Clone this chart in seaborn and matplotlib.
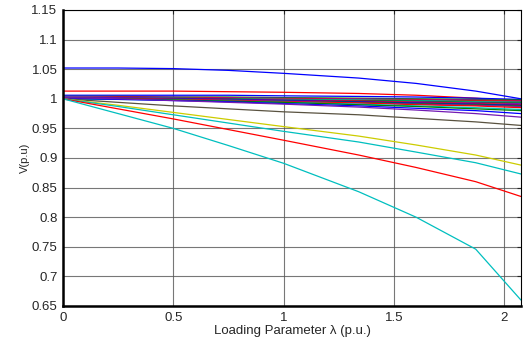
import numpy as np
import pandas as pd
import matplotlib
matplotlib.use('Agg')
import matplotlib.pyplot as plt
import seaborn as sns

sns.set_style('white')
plt.rcParams['font.family'] = ['Liberation Sans', 'DejaVu Sans']

# loading parameter steps (p.u.)
lam = [0, 0.25, 0.5, 0.75, 1.0, 1.34, 1.6, 1.87, 2.075]

# bus voltage profiles (p.u.)
bus_voltages = {
    'b1':  [1.052, 1.052, 1.051, 1.048, 1.043, 1.035, 1.026, 1.013, 1.000],
    'r1':  [1.013, 1.013, 1.013, 1.012, 1.011, 1.009, 1.006, 1.001, 0.996],
    'b2':  [1.006, 1.006, 1.006, 1.006, 1.005, 1.004, 1.003, 1.001, 0.999],
    'g1':  [1.004, 1.004, 1.003, 1.003, 1.002, 1.001, 1.000, 0.999, 0.998],
    'm1':  [1.004, 1.003, 1.003, 1.002, 1.001, 1.000, 0.999, 0.998, 0.997],
    'r2':  [1.003, 1.003, 1.002, 1.001, 1.000, 0.999, 0.998, 0.997, 0.996],
    'k1':  [1.002, 1.002, 1.001, 1.000, 0.999, 0.998, 0.997, 0.996, 0.995],
    'c1':  [1.003, 1.002, 1.001, 1.000, 0.999, 0.998, 0.997, 0.995, 0.994],
    'g2':  [1.002, 1.001, 1.001, 1.000, 0.998, 0.997, 0.996, 0.994, 0.993],
    'm2':  [1.003, 1.002, 1.001, 0.999, 0.998, 0.996, 0.995, 0.993, 0.992],
    'r3':  [1.001, 1.001, 1.000, 0.999, 0.997, 0.996, 0.994, 0.992, 0.990],
    'b3':  [1.002, 1.001, 1.000, 0.999, 0.997, 0.995, 0.993, 0.991, 0.989],
    'g3':  [1.001, 1.000, 0.999, 0.998, 0.996, 0.994, 0.992, 0.990, 0.988],
    'm3':  [1.002, 1.001, 0.999, 0.998, 0.996, 0.993, 0.991, 0.989, 0.987],
    'r4':  [1.001, 1.000, 0.999, 0.997, 0.995, 0.993, 0.990, 0.988, 0.985],
    'c2':  [1.000, 0.999, 0.998, 0.996, 0.994, 0.991, 0.988, 0.985, 0.982],
    'g4':  [1.001, 1.000, 0.998, 0.996, 0.994, 0.990, 0.987, 0.983, 0.980],
    'b4':  [1.001, 0.999, 0.997, 0.995, 0.992, 0.988, 0.984, 0.980, 0.975],
    'm4':  [1.002, 1.000, 0.997, 0.994, 0.991, 0.986, 0.981, 0.975, 0.969],
    'k2':  [1.000, 0.994, 0.988, 0.983, 0.978, 0.973, 0.967, 0.961, 0.955],
    'y1':  [1.000, 0.989, 0.977, 0.965, 0.953, 0.937, 0.922, 0.905, 0.888],
    'c3':  [1.000, 0.987, 0.973, 0.959, 0.945, 0.927, 0.910, 0.892, 0.873],
    'r5':  [1.000, 0.983, 0.966, 0.948, 0.930, 0.905, 0.884, 0.860, 0.835],
    'c4':  [1.000, 0.975, 0.950, 0.921, 0.891, 0.843, 0.800, 0.746, 0.660],
}

matlab_colors = {
    'b': (0, 0, 1), 'g': (0, 0.5, 0), 'r': (1, 0, 0), 'c': (0, 0.75, 0.75),
    'm': (0.45, 0.1, 0.7), 'y': (0.8, 0.8, 0), 'k': (0.35, 0.32, 0.25),
}
palette = {name: matlab_colors[name[0]] for name in bus_voltages}

df = pd.DataFrame(bus_voltages)
df['lam'] = lam
long_df = df.melt(id_vars='lam', var_name='bus', value_name='V')

fig = plt.figure(figsize=(5.31, 3.40), dpi=100)
ax = fig.add_axes([0.1186, 0.1, 0.8625, 0.8706])

sns.lineplot(data=long_df, x='lam', y='V', hue='bus', palette=palette,
             linewidth=0.9, legend=False, ax=ax, sort=False)

ax.set_xlim(0, 2.075)
ax.set_ylim(0.65, 1.15)
ax.set_xticks([0, 0.5, 1, 1.5, 2])
ax.set_xticklabels(['0', '0.5', '1', '1.5', '2'])
ax.set_yticks(np.arange(0.65, 1.151, 0.05))
ax.set_yticklabels(['0.65', '0.7', '0.75', '0.8', '0.85', '0.9', '0.95',
                    '1', '1.05', '1.1', '1.15'])
ax.grid(True, color='#555555', linewidth=0.8, alpha=0.8)
ax.set_axisbelow(True)
ax.tick_params(direction='in', length=3, labelsize=9.5, pad=4,
               top=True, right=True)
for side in ['left', 'bottom']:
    ax.spines[side].set_linewidth(1.8)
for side in ['top', 'right']:
    ax.spines[side].set_linewidth(0.8)
for s in ax.spines.values():
    s.set_color('black')

ax.set_xlabel('Loading Parameter λ (p.u.)', fontsize=9.5, labelpad=1)
ax.set_ylabel('V(p.u)', fontsize=8, labelpad=1)

fig.savefig('out.png', dpi=100)
